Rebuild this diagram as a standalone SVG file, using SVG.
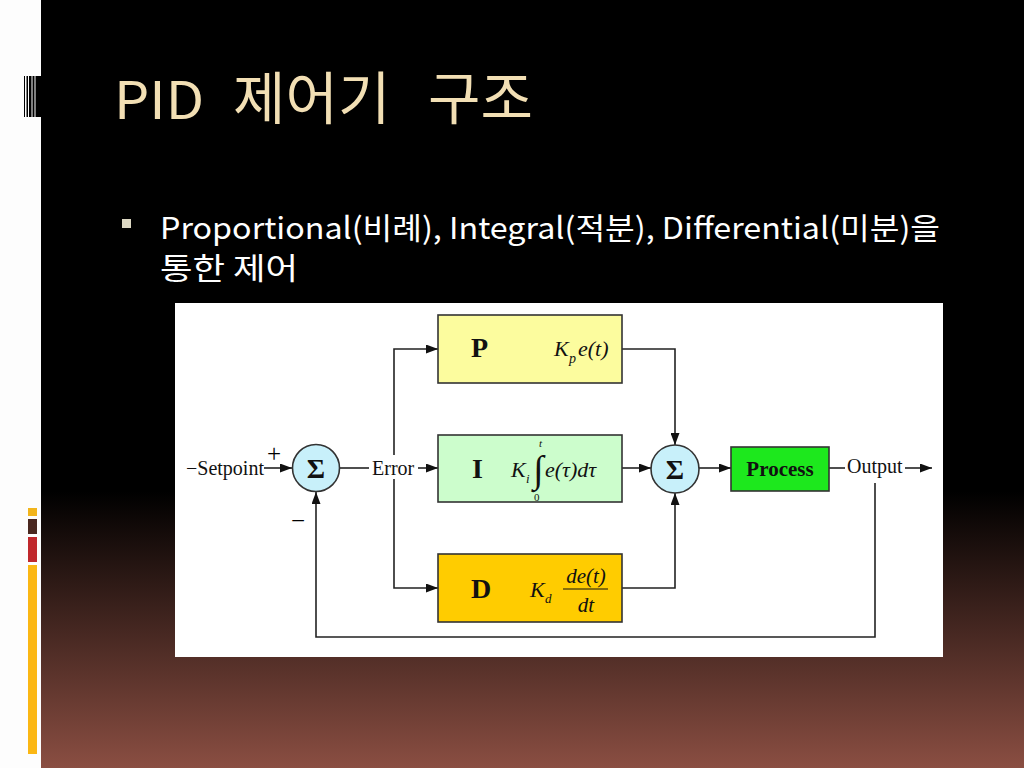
<svg xmlns="http://www.w3.org/2000/svg" width="1024" height="768" viewBox="0 0 1024 768">
<defs>
<linearGradient id="bg" x1="0" y1="0" x2="0" y2="1">
<stop offset="0" stop-color="#000"/>
<stop offset="0.64" stop-color="#000"/>
<stop offset="1" stop-color="#8a4e42"/>
</linearGradient>
<marker id="ah" viewBox="0 0 12 9" refX="12" refY="4.5" markerWidth="12" markerHeight="9" markerUnits="userSpaceOnUse" orient="auto">
<path d="M0,0 L12,4.5 L0,9 z" fill="#111"/>
</marker>
<style>
.ln{fill:none;stroke:#222;stroke-width:1.6}
.ar{marker-end:url(#ah)}
.box{stroke:#333;stroke-width:1.6}
.sum{fill:#c8f0fa;stroke:#333;stroke-width:1.6}
.lbl{font-family:"Liberation Serif",serif;font-size:20px;fill:#111}
.sgn{font-family:"Liberation Serif",serif;font-size:25px;fill:#000}
.big{font-family:"Liberation Serif",serif;font-weight:bold;fill:#111}
.mth{font-family:"Liberation Serif",serif;font-style:italic;fill:#111}
.ttl{font-family:"Noto Sans CJK KR","Noto Sans",sans-serif;fill:#f2dfb4}
.bul{font-family:"Noto Sans CJK KR","Noto Sans",sans-serif;fill:#fff}
</style>
</defs>

<rect x="0" y="0" width="1024" height="768" fill="#fdfdfd"/>
<rect x="41" y="0" width="983" height="768" fill="url(#bg)"/>

<g id="barcode" fill="#000">
<rect x="24" y="76" width="1" height="41"/>
<rect x="26.5" y="76" width="1.5" height="41"/>
<rect x="29" y="76" width="2.5" height="41"/>
<rect x="32.5" y="76" width="2" height="41"/>
<rect x="35.5" y="76" width="5.5" height="41"/>
</g>
<g id="sidebars">
<rect x="28" y="508" width="9" height="8" fill="#f2b51c"/>
<rect x="28" y="519" width="9" height="15" fill="#4a2820"/>
<rect x="28" y="537" width="9" height="25" fill="#c0282c"/>
<rect x="28" y="565" width="9" height="189" fill="#fbb714"/>
</g>

<text class="ttl" font-size="52" y="119"><tspan x="114" textLength="90" lengthAdjust="spacingAndGlyphs">PID</tspan> <tspan x="233" font-size="57">제어기</tspan> <tspan x="428" font-size="57">구조</tspan></text>

<rect x="122" y="219" width="9" height="9" fill="#dcd7c2"/>
<text class="bul" font-size="30" x="160" y="239" textLength="780" lengthAdjust="spacingAndGlyphs">Proportional(비례), Integral(적분), Differential(미분)을</text>
<text class="bul" font-size="30" x="160" y="279" textLength="138" lengthAdjust="spacingAndGlyphs">통한 제어</text>

<rect x="175" y="303" width="768" height="354" fill="#fff"/>

<g id="connectors">
<line class="ln ar" x1="264" y1="468" x2="292" y2="468"/>
<line class="ln" x1="339" y1="468" x2="369" y2="468"/>
<line class="ln ar" x1="418" y1="468" x2="438" y2="468"/>
<polyline class="ln ar" points="394,455 394,349 438,349"/>
<polyline class="ln ar" points="394,479 394,588 438,588"/>
<polyline class="ln ar" points="622,349 675,349 675,445"/>
<line class="ln ar" x1="622" y1="468" x2="651" y2="468"/>
<polyline class="ln ar" points="622,588 675,588 675,493"/>
<line class="ln ar" x1="699" y1="468" x2="731" y2="468"/>
<line class="ln" x1="829" y1="468" x2="845" y2="468"/>
<line class="ln ar" x1="905" y1="468" x2="932" y2="468"/>
<polyline class="ln ar" points="875,483 875,637 316,637 316,492"/>
</g>

<g id="setpoint"><text class="lbl" x="186" y="475">−Setpoint</text></g>
<g id="signs">
<text class="sgn" x="267" y="462">+</text>
<text class="sgn" x="291" y="529">−</text>
</g>

<g id="sum1">
<circle class="sum" cx="316" cy="468" r="23.5"/>
<text class="big" font-size="28" x="316" y="478" text-anchor="middle">Σ</text>
</g>

<g id="error"><text class="lbl" x="372" y="475">Error</text></g>

<g id="P">
<rect class="box" x="438" y="315" width="184" height="68" fill="#fcfc9e"/>
<text class="big" font-size="28" x="471" y="357">P</text>
<text class="mth" font-size="22" x="554" y="356">K</text>
<text class="mth" font-size="14" x="569" y="363">p</text>
<text class="mth" font-size="22" x="578" y="356">e(t)</text>
</g>

<g id="I">
<rect class="box" x="438" y="435" width="184" height="67" fill="#ccfdcc"/>
<text class="big" font-size="28" x="472" y="478">I</text>
<text class="mth" font-size="22" x="511" y="477">K</text>
<text class="mth" font-size="13" x="526" y="483">i</text>
<text font-family="Liberation Serif,serif" font-size="38" x="533" y="482" fill="#111">∫</text>
<text class="mth" font-size="11" x="539" y="447">t</text>
<text font-family="Liberation Serif,serif" font-size="11" x="534" y="501" fill="#111">0</text>
<text class="mth" font-size="22" x="545" y="477">e(τ)dτ</text>
</g>

<g id="D">
<rect class="box" x="438" y="554" width="184" height="68" fill="#ffcc00"/>
<text class="big" font-size="28" x="471" y="598">D</text>
<text class="mth" font-size="22" x="530" y="597">K</text>
<text class="mth" font-size="13" x="545" y="603">d</text>
<text class="mth" font-size="21" x="586" y="583" text-anchor="middle">de(t)</text>
<line x1="563" y1="589" x2="608" y2="589" stroke="#111" stroke-width="1.2"/>
<text class="mth" font-size="21" x="586" y="612" text-anchor="middle">dt</text>
</g>

<g id="sum2">
<circle class="sum" cx="675" cy="469" r="24"/>
<text class="big" font-size="28" x="675" y="479" text-anchor="middle">Σ</text>
</g>

<g id="process">
<rect class="box" x="731" y="447" width="98" height="44" fill="#1de81d"/>
<text class="big" font-size="21" x="780" y="476" text-anchor="middle">Process</text>
</g>

<g id="output"><text class="lbl" x="847" y="473">Output</text></g>
</svg>
